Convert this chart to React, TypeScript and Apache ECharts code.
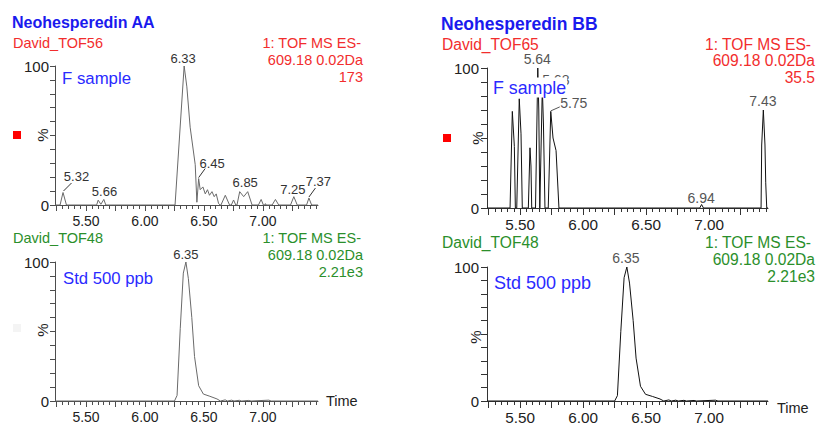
import React, { useEffect, useRef } from "react";
import * as echarts from "echarts";

// ---------- data ----------
const X_MIN = 5.237;
const X_MAX = 7.467;
const xTickLabels = [5.5, 6.0, 6.5, 7.0];
const yTickLabels = [0, 100];

// F sample, Neohesperedin AA (David_TOF56) : [time, %]
const sampleAA: [number, number][] = [
  [5.237, 0], [5.28, 0], [5.305, 9], [5.334, 0],
  [5.59, 0], [5.603, 3.5], [5.626, 0.5], [5.651, 4], [5.668, 0],
  [6.255, 0], [6.332, 100], [6.355, 85], [6.383, 56], [6.426, 29], [6.44, 2], [6.455, 19],
  [6.468, 11], [6.491, 13], [6.511, 8], [6.53, 11], [6.547, 7], [6.568, 9.6], [6.587, 6],
  [6.604, 8], [6.624, 1], [6.638, 0],
  [6.644, 0], [6.681, 7], [6.717, 0],
  [6.732, 0], [6.751, 3.6], [6.77, 0],
  [6.78, 0], [6.803, 9.6], [6.837, 6], [6.871, 9.6], [6.908, 0],
  [6.962, 0], [6.985, 4], [7.004, 0],
  [7.015, 0], [7.021, 1], [7.027, 0],
  [7.078, 0], [7.106, 4], [7.134, 0],
  [7.234, 0], [7.262, 6], [7.291, 0],
  [7.37, 0], [7.39, 5], [7.413, 0],
  [7.467, 0],
];

// Std 500 ppb (David_TOF48) : [time, %]
const standard: [number, number][] = [
  [5.237, 0], [6.25, 0], [6.272, 4], [6.299, 52], [6.325, 92], [6.347, 100], [6.368, 88],
  [6.397, 60], [6.42, 32], [6.455, 11], [6.495, 5], [6.55, 3.4], [6.61, 1.5], [6.64, 0],
  [6.68, 0.8], [6.7, 0], [6.735, 0.6], [6.755, 0], [6.8, 0.5], [6.82, 0], [6.88, 0.4],
  [6.9, 0], [7.05, 0.6], [7.07, 0], [7.467, 0],
];

// F sample, Neohesperedin BB (David_TOF65) : [time, %]
const sampleBB: [number, number][] = [
  [5.237, 0], [5.42, 0], [5.438, 69], [5.454, 44], [5.462, 0],
  [5.473, 0], [5.493, 78], [5.507, 53], [5.517, 0],
  [5.565, 0], [5.578, 43], [5.586, 30], [5.592, 0],
  [5.622, 0], [5.64, 100], [5.648, 70], [5.656, 0],
  [5.66, 0], [5.676, 86], [5.685, 60], [5.697, 0],
  [5.723, 0], [5.743, 69], [5.761, 50], [5.785, 41], [5.808, 0],
  [6.925, 0], [6.94, 2.5], [6.955, 0],
  [7.412, 0], [7.417, 45], [7.43, 70], [7.443, 45], [7.449, 18], [7.457, 0],
  [7.467, 0],
];

const peaksAA = [
  { text: "5.32", t: 5.305, v: 9 },
  { text: "5.66", t: 5.651, v: 4 },
  { text: "6.33", t: 6.332, v: 100 },
  { text: "6.45", t: 6.455, v: 19 },
  { text: "6.85", t: 6.871, v: 9.6 },
  { text: "7.25", t: 7.262, v: 6 },
  { text: "7.37", t: 7.39, v: 5 },
];
const peaksStd = [{ text: "6.35", t: 6.347, v: 100 }];
const peaksBB = [
  { text: "5.64", t: 5.64, v: 100 },
  { text: "5.68", t: 5.676, v: 86 },
  { text: "5.75", t: 5.743, v: 69 },
  { text: "6.94", t: 6.94, v: 2.5 },
  { text: "7.43", t: 7.43, v: 70 },
];

// ---------- layout / style ----------
const FONT = "'Liberation Sans', Arial, Helvetica, sans-serif";
const BLUE_T = "#1a1aee";
const BLUE_S = "#2a2aff";
const RED = "#f22d2d";
const GREEN = "#2b8f2b";

// label offsets relative to apex pixel: [dx, dy, leader?]
const labelOffsets: Record<string, { dx: number; dy: number; lead?: number[] }> = {
  "AA5.32": { dx: 13.5, dy: -16, lead: [0.5, -1.5, 8.5, -9.5] },
  "AA5.66": { dx: 0.7, dy: -8 },
  "AA6.33": { dx: -1, dy: -7.5 },
  "AA6.45": { dx: 13.5, dy: -15.5, lead: [0, -1, 6.5, -10] },
  "AA6.85": { dx: -2.5, dy: -9 },
  "AA7.25": { dx: -1, dy: -7.5 },
  "AA7.37": { dx: 9.5, dy: -17, lead: [0, -1, 6.5, -10] },
  "SL6.35": { dx: 0, dy: -8 },
  "BB5.64": { dx: -0.5, dy: -9 },
  "BB5.68": { dx: 13.5, dy: -8 },
  "BB5.75": { dx: 23, dy: -8.5, lead: [0, -0.5, 9, -4.5] },
  "BB6.94": { dx: -0.5, dy: -7 },
  "BB7.43": { dx: -0.5, dy: -9 },
  "SR6.35": { dx: -1, dy: -9 },
};

const minorTicks: number[] = [];
for (let i = 105; i <= 149; i++) minorTicks.push(Math.round(i * 5) / 100);
const majorTicks: number[] = [];
for (let i = 21; i <= 29; i++) majorTicks.push(i * 0.25);

type PanelStyle = {
  axis: string; trace: string; tickFont: number; minorLen: number; majorLen: number;
  yTickLen: number; yMargin: number; yFont: number; xMargin: number;
};
const leftStyle: PanelStyle = { axis: "#4d4d4d", trace: "#6a6a6a", tickFont: 14, minorLen: 4, majorLen: 6, yTickLen: 5, yMargin: 6, yFont: 15, xMargin: 9 };
const rightStyle: PanelStyle = { axis: "#333", trace: "#111", tickFont: 15.3, minorLen: 4, majorLen: 7, yTickLen: 6, yMargin: 8, yFont: 15, xMargin: 9 };

const grids = [
  { left: 55, top: 66, width: 263, height: 139 },
  { left: 55, top: 262, width: 263, height: 139 },
  { left: 487, top: 68, width: 281, height: 140 },
  { left: 487, top: 267, width: 281, height: 140 },
];
const panelStyles = [leftStyle, leftStyle, rightStyle, rightStyle];
const panelData = [sampleAA, standard, sampleBB, standard];

function txt(text: string, x: number, y: number, size: number, fill: string, align = "left", extra: any = {}) {
  return {
    type: "text",
    x,
    y,
    z: extra.z ?? 100,
    rotation: extra.rotation ?? 0,
    style: {
      text,
      fill,
      fontSize: size,
      fontFamily: FONT,
      fontWeight: extra.bold ? "bold" : "normal",
      align,
      verticalAlign: "middle",
      backgroundColor: extra.bg,
      padding: extra.padding,
    },
  };
}

export default function App() {
  const ref = useRef<HTMLDivElement>(null);
  useEffect(() => {
    if (!ref.current) return;
    const chart = echarts.init(ref.current, null, { renderer: "svg" });
    const xAxis: any[] = [];
    const yAxis: any[] = [];
    const series: any[] = [];
    grids.forEach((_, g) => {
      const s = panelStyles[g];
      xAxis.push({
        type: "value", gridIndex: g, min: X_MIN, max: X_MAX, position: "bottom",
        axisLine: { show: true, onZero: false, lineStyle: { color: s.axis, width: 1 } },
        axisTick: { show: true, customValues: minorTicks, length: s.minorLen, lineStyle: { color: s.axis, width: 1 } },
        axisLabel: {
          show: true, customValues: xTickLabels, formatter: (v: number) => v.toFixed(2),
          fontSize: s.tickFont, color: "#222", margin: s.xMargin, fontFamily: FONT,
        },
        splitLine: { show: false },
      });
      xAxis.push({
        type: "value", gridIndex: g, min: X_MIN, max: X_MAX, position: "bottom",
        axisLine: { show: false, onZero: false },
        axisTick: { show: true, customValues: majorTicks, length: s.majorLen, lineStyle: { color: s.axis, width: 1 } },
        axisLabel: { show: false },
        splitLine: { show: false },
      });
      yAxis.push({
        type: "value", gridIndex: g, min: 0, max: 100, interval: 10,
        axisLine: { show: true, onZero: false, lineStyle: { color: s.axis, width: 1 } },
        axisTick: { show: true, length: s.yTickLen, lineStyle: { color: s.axis, width: 1 } },
        axisLabel: {
          formatter: (v: number) => (yTickLabels.includes(v) ? String(v) : ""),
          fontSize: s.yFont, color: "#222", margin: s.yMargin, fontFamily: FONT,
        },
        splitLine: { show: false },
      });
      series.push({
        type: "line", xAxisIndex: 2 * g, yAxisIndex: g, data: panelData[g],
        showSymbol: false, symbol: "none", silent: true, z: 2,
        lineStyle: { color: s.trace, width: 1 },
      });
    });

    chart.setOption({
      animation: false,
      backgroundColor: "#ffffff",
      grid: grids.map((g) => ({ ...g, containLabel: false })),
      xAxis,
      yAxis,
      series,
    });

    const g: any[] = [];
    const peakSets = [
      { si: 0, key: "AA", peaks: peaksAA, size: 13, color: "#333" },
      { si: 1, key: "SL", peaks: peaksStd, size: 13, color: "#333" },
      { si: 2, key: "BB", peaks: peaksBB, size: 14, color: "#555" },
      { si: 3, key: "SR", peaks: peaksStd, size: 14, color: "#555" },
    ];
    peakSets.forEach((ps) => {
      ps.peaks.forEach((p) => {
        const pt = chart.convertToPixel({ seriesIndex: ps.si }, [p.t, p.v]) as number[];
        const L = labelOffsets[ps.key + p.text];
        if (!pt || !L) return;
        g.push(txt(p.text, pt[0] + L.dx, pt[1] + L.dy, ps.size, ps.color, "center"));
        if (L.lead) {
          g.push({
            type: "line", z: 100,
            shape: { x1: pt[0] + L.lead[0], y1: pt[1] + L.lead[1], x2: pt[0] + L.lead[2], y2: pt[1] + L.lead[3] },
            style: { stroke: ps.color, lineWidth: 1 },
          });
        }
      });
    });

    // Left column
    g.push(txt("Neohesperedin AA", 12, 22.5, 16, BLUE_T, "left", { bold: true }));
    g.push(txt("David_TOF56", 13, 43, 14.5, RED));
    g.push(txt("1: TOF MS ES-", 361, 43, 14.5, RED, "right"));
    g.push(txt("609.18 0.02Da", 363, 60, 14.5, RED, "right"));
    g.push(txt("173", 363, 76.5, 14.5, RED, "right"));
    g.push(txt("F sample", 61, 78, 16.8, BLUE_S, "left", { bg: "#fff", padding: [1, 1], z: 110 }));
    g.push(txt("%", 42, 135, 15, "#222", "center", { rotation: Math.PI / 2 }));
    g.push({ type: "rect", z: 100, shape: { x: 13, y: 131, width: 8, height: 8 }, style: { fill: "#ff0000" } });

    g.push(txt("David_TOF48", 13, 238, 14.5, GREEN));
    g.push(txt("1: TOF MS ES-", 361, 238, 14.5, GREEN, "right"));
    g.push(txt("609.18 0.02Da", 363, 255, 14.5, GREEN, "right"));
    g.push(txt("2.21e3", 363, 272, 14.5, GREEN, "right"));
    g.push(txt("Std 500 ppb", 62, 278, 16.7, BLUE_S, "left", { bg: "#fff", padding: [1, 1], z: 110 }));
    g.push(txt("%", 42, 330, 15, "#222", "center", { rotation: Math.PI / 2 }));
    g.push({ type: "rect", z: 100, shape: { x: 13, y: 324, width: 8, height: 8 }, style: { fill: "#f4f4f4" } });
    g.push(txt("Time", 326, 401, 14.5, "#222"));

    // Right column
    g.push(txt("Neohesperedin BB", 441, 23.5, 17.5, BLUE_T, "left", { bold: true }));
    g.push(txt("David_TOF65", 442, 44, 15.6, RED));
    g.push(txt("1: TOF MS ES-", 811, 44, 15.6, RED, "right"));
    g.push(txt("609.18 0.02Da", 815, 60.8, 15.6, RED, "right"));
    g.push(txt("35.5", 815, 77.5, 15.6, RED, "right"));
    g.push(txt("F sample", 492, 87.5, 17.8, BLUE_S, "left", { bg: "#fff", padding: [1, 1], z: 110 }));
    g.push(txt("%", 477, 138, 15, "#222", "center", { rotation: Math.PI / 2 }));
    g.push({ type: "rect", z: 100, shape: { x: 443, y: 134, width: 8, height: 8 }, style: { fill: "#ff0000" } });

    g.push(txt("David_TOF48", 442, 242, 15.6, GREEN));
    g.push(txt("1: TOF MS ES-", 811, 242, 15.6, GREEN, "right"));
    g.push(txt("609.18 0.02Da", 815, 259.5, 15.6, GREEN, "right"));
    g.push(txt("2.21e3", 815, 276, 15.6, GREEN, "right"));
    g.push(txt("Std 500 ppb", 493, 283, 18, BLUE_S, "left", { bg: "#fff", padding: [1, 1], z: 110 }));
    g.push(txt("%", 475, 337, 15, "#222", "center", { rotation: Math.PI / 2 }));
    g.push(txt("Time", 777, 408, 14.5, "#222"));

    chart.setOption({ graphic: g });
    return () => chart.dispose();
  }, []);

  return (
    <div
      ref={ref}
      style={{ position: "fixed", left: 0, top: 0, width: 816, height: 425, background: "#fff" }}
    />
  );
}
